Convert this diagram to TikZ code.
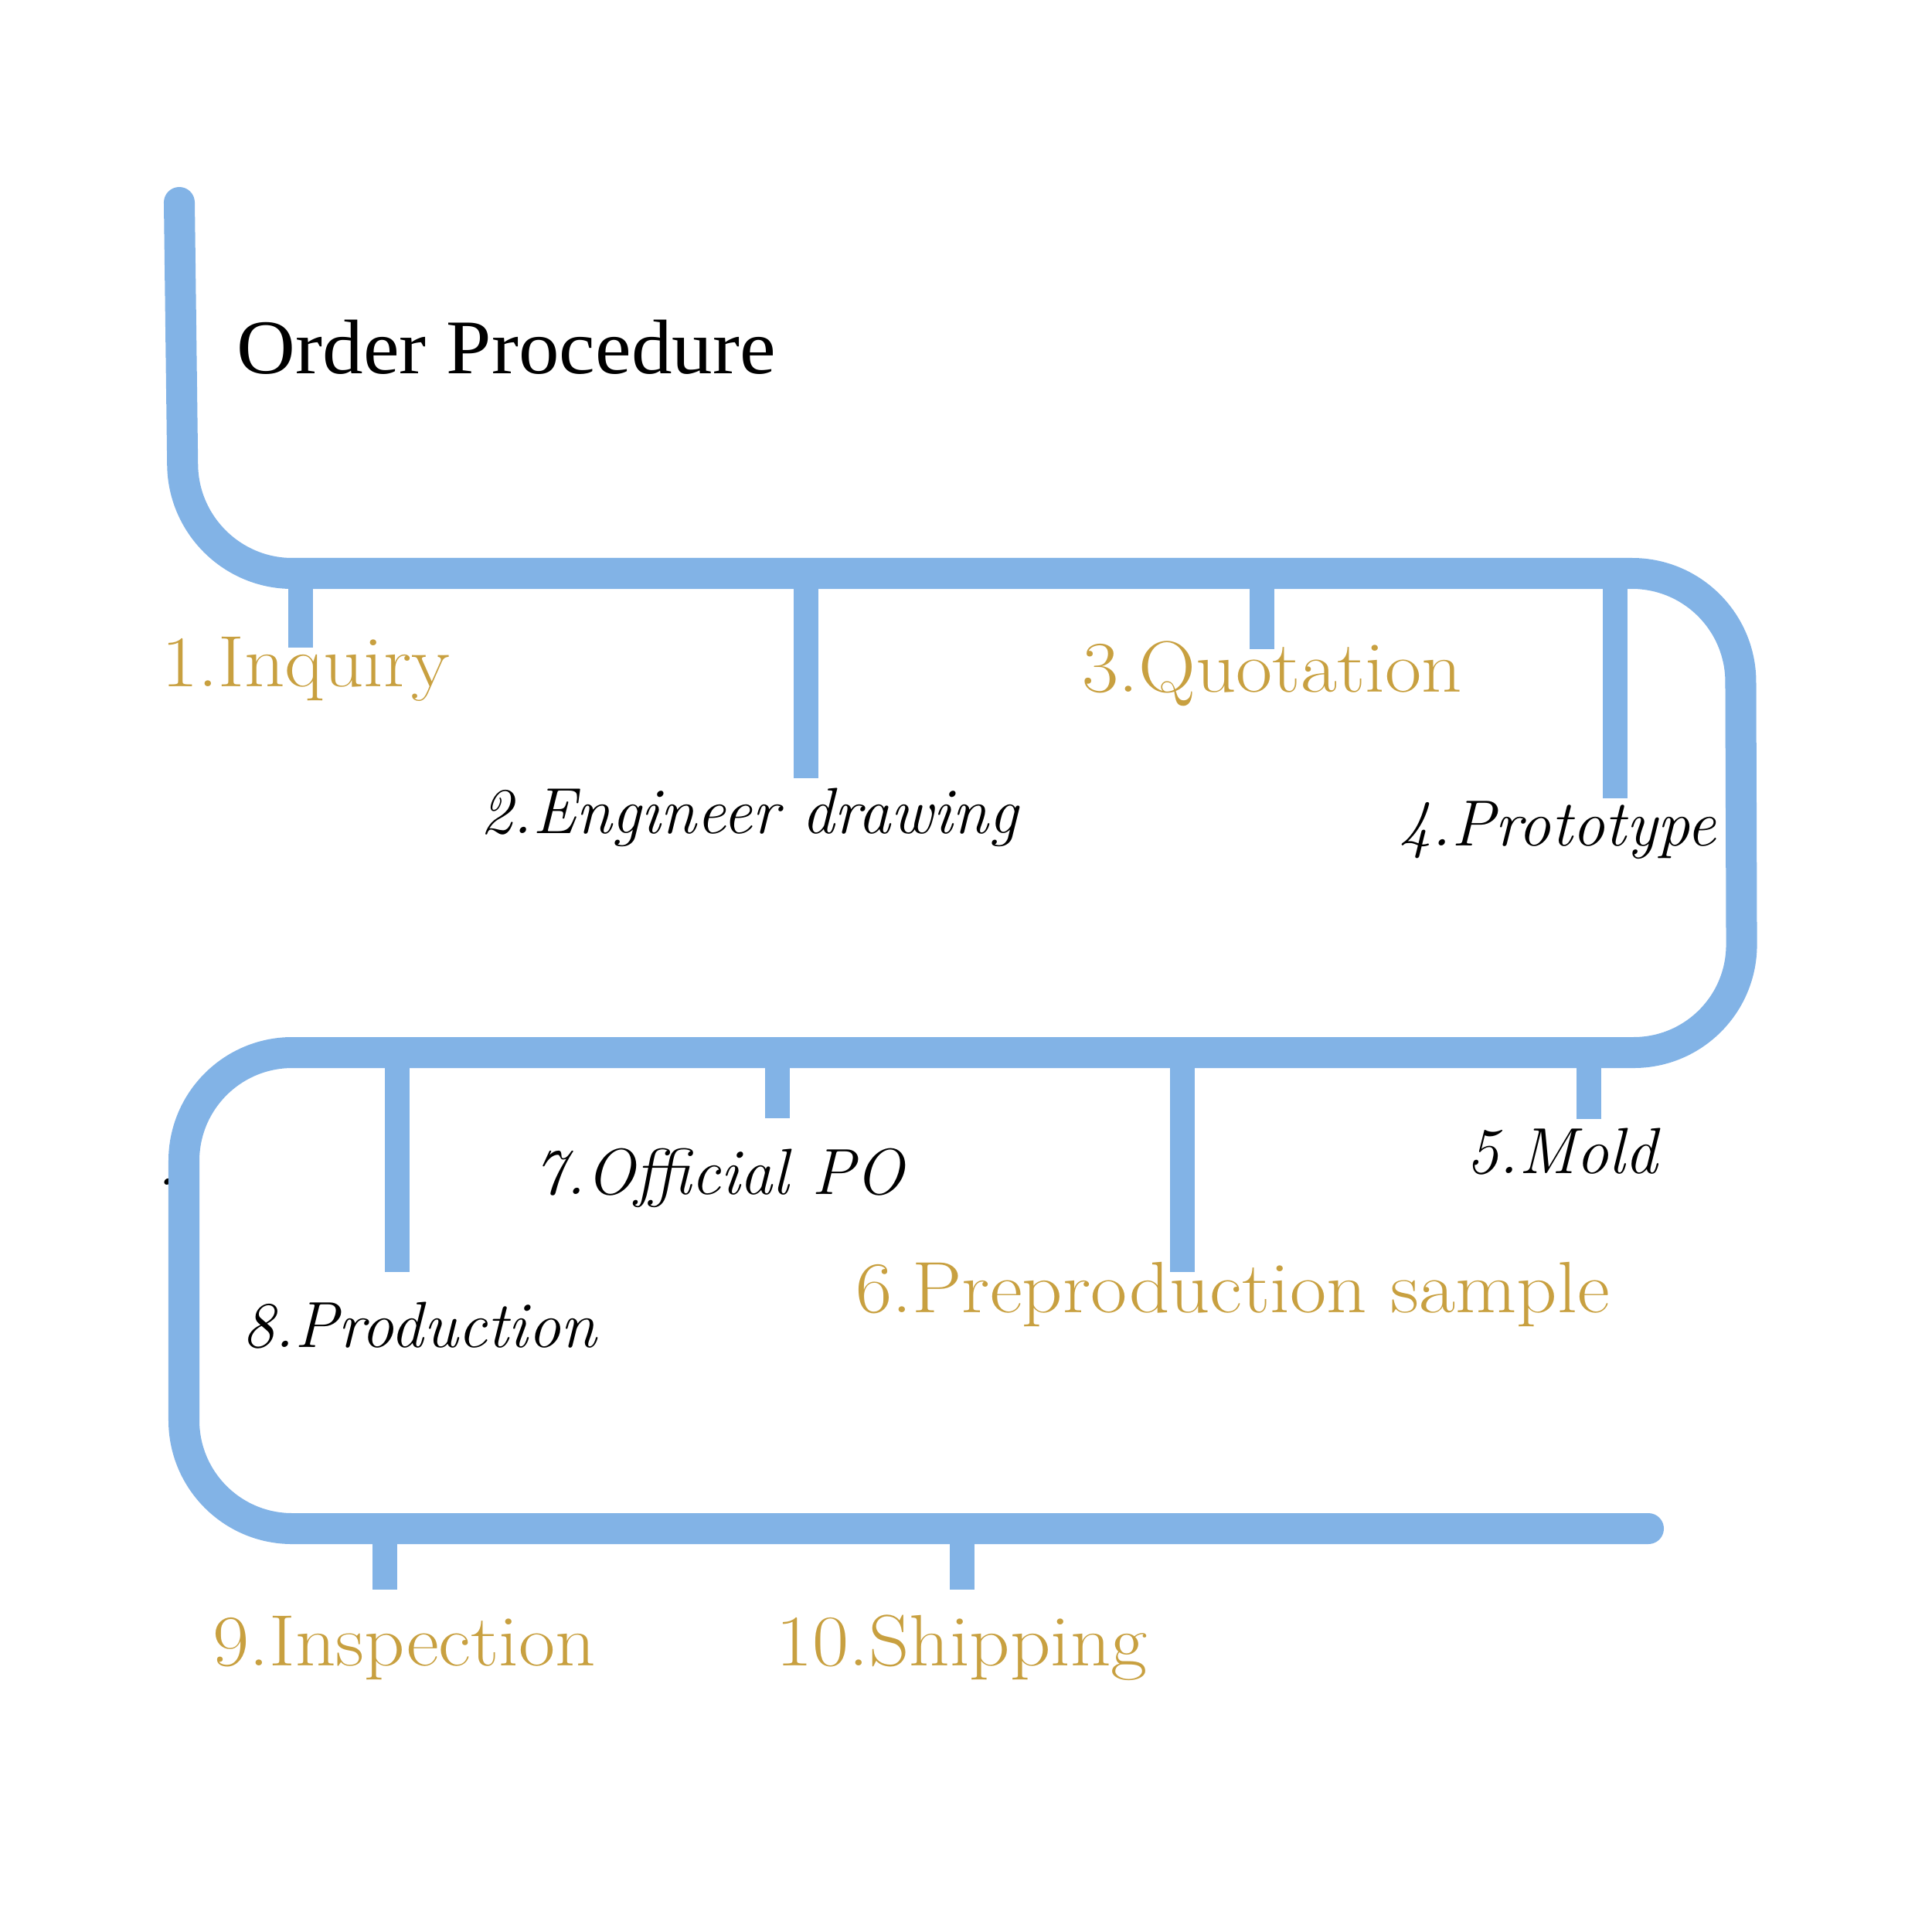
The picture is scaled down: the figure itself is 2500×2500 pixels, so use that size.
\documentclass[tikz,border=0pt]{standalone}
\usepackage{fontspec}
\newfontfamily\titlefont{Liberation Serif}
\definecolor{lineblue}{RGB}{130,179,230}
\definecolor{gold}{RGB}{200,160,64}
\newcommand{\goldtext}[1]{\scalebox{1.09}[1]{#1}}
\tikzset{
  mainline/.style={draw=lineblue, line width=0.4cm, line cap=round, rounded corners=1.4cm},
  branch/.style={draw=lineblue, line width=0.32cm},
  titlelabel/.style={text=black, inner sep=0pt, anchor=base west, font=\titlefont\fontsize{28.45}{34}\selectfont},
  goldlabel/.style={text=gold, inner sep=0pt, anchor=base west, font=\fontsize{26.75}{32}\selectfont},
  blacklabel/.style={text=black, inner sep=0pt, anchor=base west, font=\fontsize{24}{29}\selectfont\itshape}
}
\begin{document}
\begin{tikzpicture}[x=0.01cm,y=-0.01cm]
\useasboundingbox (0,0) rectangle (2500,2500);
% stray dot (partly hidden behind the line)
\node[blacklabel, anchor=base] (dot) at (216,1533) {.};
% main path corners
\coordinate (p0) at (232,262);
\coordinate (c1) at (238,742);
\coordinate (c2) at (2252,742);
\coordinate (c3) at (2254,1362);
\coordinate (c4) at (238,1362);
\coordinate (c5) at (238,1978);
\coordinate (p6) at (2133,1978);
% branch ends
\coordinate (b1) at (389,838);
\coordinate (b2) at (1043,1007);
\coordinate (b3) at (1633,840);
\coordinate (b4) at (2090,1033);
\coordinate (b5) at (2056,1448);
\coordinate (b6) at (1530,1646);
\coordinate (b7) at (1006,1447);
\coordinate (b8) at (514,1646);
\coordinate (b9) at (498,2057);
\coordinate (b10) at (1245,2057);
% branches
\draw[branch] (b1|-c1) -- (b1);
\draw[branch] (b2|-c1) -- (b2);
\draw[branch] (b3|-c1) -- (b3);
\draw[branch] (b4|-c1) -- (b4);
\draw[branch] (b5|-c4) -- (b5);
\draw[branch] (b6|-c4) -- (b6);
\draw[branch] (b7|-c4) -- (b7);
\draw[branch] (b8|-c4) -- (b8);
\draw[branch] (b9|-c5) -- (b9);
\draw[branch] (b10|-c5) -- (b10);
% main line
\draw[mainline] (p0) -- (c1) -- (c2) -- (c3) -- (c4) -- (c5) -- (p6);
% labels
\node[titlelabel] (title) at (306,483) {\scalebox{1.05}[1]{Order Procedure}};
\node[goldlabel] (l1) at (209,888) {\goldtext{1.Inquiry}};
\node[blacklabel] (l2) at (621,1078) {2.Engineer drawing};
\node[goldlabel] (l3) at (1400,895) {\goldtext{3.Quotation}};
\node[blacklabel] (l4) at (1810,1094) {4.Prototype};
\node[blacklabel] (l5) at (1897,1518) {5.Mold};
\node[goldlabel] (l6) at (1107,1698) {\goldtext{6.Preproduction sample}};
\node[blacklabel] (l7) at (690,1545) {7.Official PO};
\node[blacklabel] (l8) at (313,1743) {8.Production};
\node[goldlabel] (l9) at (275,2155) {\goldtext{9.Inspection}};
\node[goldlabel] (l10) at (1004,2155) {\goldtext{10.Shipping}};
\end{tikzpicture}
\end{document}
